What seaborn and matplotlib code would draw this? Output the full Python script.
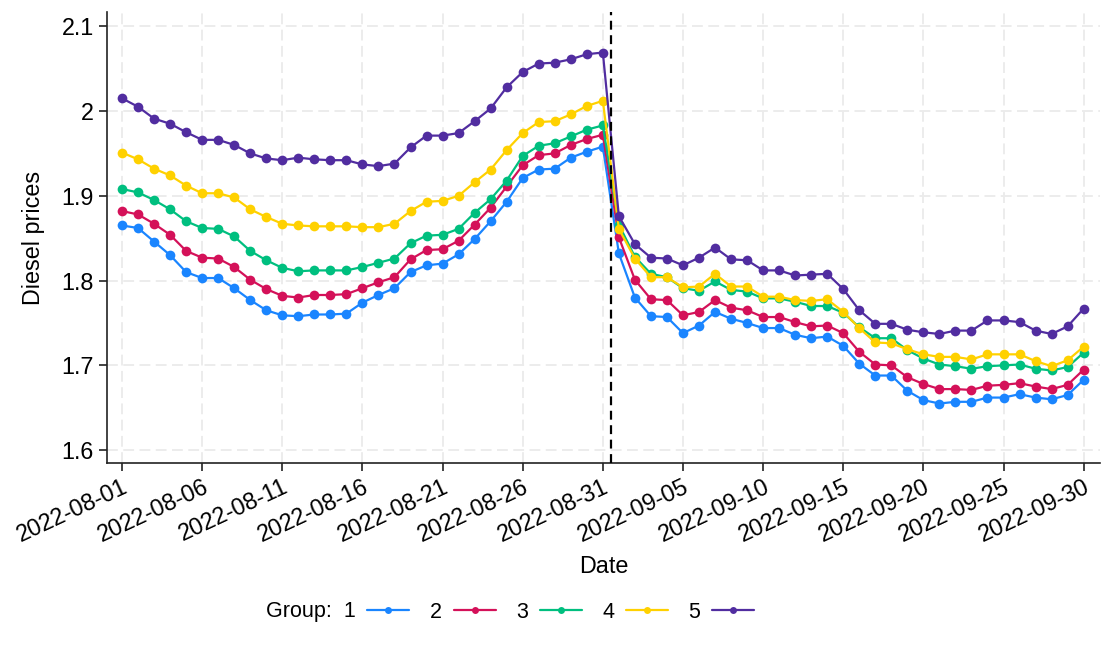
import pandas as pd
import matplotlib
matplotlib.use('Agg')
import matplotlib.pyplot as plt
import matplotlib.dates as mdates
from matplotlib.ticker import FuncFormatter
from matplotlib.lines import Line2D
import seaborn as sns

# daily dates, 2022-08-01 .. 2022-09-30
dates = pd.date_range('2022-08-01', '2022-09-30', freq='D')

group1 = [1.865, 1.862, 1.846, 1.830, 1.810, 1.803, 1.803, 1.791, 1.777, 1.765, 1.759, 1.758, 1.760, 1.760, 1.761, 1.774,
          1.783, 1.791, 1.810, 1.818, 1.820, 1.831, 1.849, 1.870, 1.893, 1.921, 1.931, 1.932, 1.945, 1.952, 1.958,
          1.832, 1.780, 1.758, 1.757, 1.738, 1.747, 1.763, 1.755, 1.750, 1.744, 1.744, 1.736, 1.732, 1.734, 1.723,
          1.702, 1.688, 1.688, 1.670, 1.659, 1.655, 1.657, 1.657, 1.662, 1.662, 1.666, 1.662, 1.660, 1.665, 1.683]
group2 = [1.882, 1.878, 1.867, 1.854, 1.835, 1.827, 1.826, 1.816, 1.801, 1.790, 1.782, 1.780, 1.783, 1.783, 1.784, 1.791,
          1.798, 1.804, 1.825, 1.836, 1.837, 1.847, 1.866, 1.886, 1.911, 1.936, 1.948, 1.950, 1.960, 1.967, 1.972,
          1.851, 1.801, 1.778, 1.777, 1.759, 1.763, 1.777, 1.768, 1.765, 1.757, 1.757, 1.751, 1.746, 1.747, 1.738,
          1.716, 1.701, 1.700, 1.686, 1.678, 1.672, 1.672, 1.671, 1.676, 1.677, 1.679, 1.675, 1.672, 1.677, 1.695]
group3 = [1.908, 1.904, 1.895, 1.884, 1.870, 1.862, 1.861, 1.852, 1.835, 1.824, 1.815, 1.811, 1.812, 1.812, 1.812, 1.816,
          1.821, 1.826, 1.844, 1.853, 1.854, 1.861, 1.880, 1.896, 1.918, 1.947, 1.959, 1.962, 1.970, 1.978, 1.983,
          1.866, 1.828, 1.808, 1.804, 1.791, 1.788, 1.799, 1.789, 1.787, 1.779, 1.779, 1.775, 1.770, 1.770, 1.762,
          1.745, 1.732, 1.732, 1.718, 1.708, 1.701, 1.699, 1.696, 1.699, 1.700, 1.701, 1.696, 1.694, 1.698, 1.715]
group4 = [1.951, 1.943, 1.932, 1.924, 1.912, 1.903, 1.903, 1.898, 1.884, 1.875, 1.867, 1.865, 1.864, 1.864, 1.864, 1.863,
          1.863, 1.867, 1.882, 1.893, 1.894, 1.900, 1.916, 1.931, 1.954, 1.974, 1.987, 1.988, 1.996, 2.006, 2.012,
          1.861, 1.826, 1.804, 1.804, 1.792, 1.793, 1.808, 1.793, 1.793, 1.781, 1.781, 1.777, 1.776, 1.778, 1.763,
          1.744, 1.727, 1.726, 1.719, 1.713, 1.710, 1.710, 1.707, 1.713, 1.713, 1.713, 1.705, 1.699, 1.706, 1.722]
group5 = [2.015, 2.005, 1.991, 1.985, 1.975, 1.966, 1.966, 1.960, 1.950, 1.944, 1.942, 1.945, 1.943, 1.942, 1.942, 1.937,
          1.935, 1.938, 1.957, 1.971, 1.971, 1.974, 1.988, 2.003, 2.028, 2.046, 2.056, 2.057, 2.061, 2.067, 2.069,
          1.876, 1.843, 1.827, 1.826, 1.818, 1.827, 1.839, 1.825, 1.824, 1.812, 1.812, 1.806, 1.807, 1.808, 1.790,
          1.765, 1.749, 1.749, 1.742, 1.739, 1.737, 1.741, 1.741, 1.753, 1.753, 1.751, 1.741, 1.737, 1.746, 1.767]

groups = ['1', '2', '3', '4', '5']
colors = ['#1A85FF', '#D41159', '#00BF7F', '#FFD100', '#512DA0']
y_ticks = [1.6, 1.7, 1.8, 1.9, 2.0, 2.1]
cutoff = pd.Timestamp('2022-08-31 12:00')

frames = []
for g, vals in zip(groups, [group1, group2, group3, group4, group5]):
    frames.append(pd.DataFrame({'Date': dates, 'price': vals, 'Group': g}))
df = pd.concat(frames, ignore_index=True)

sns.set_style('white')
plt.rcParams['font.family'] = ['Liberation Sans', 'DejaVu Sans']
plt.rcParams['text.color'] = 'black'
plt.rcParams['axes.labelcolor'] = 'black'
fs = 16.8

fig = plt.figure(figsize=(11.03, 6.45), dpi=100)
ax = fig.add_axes([0.097, 0.282, 0.9, 0.699])

sns.lineplot(data=df, x='Date', y='price', hue='Group', palette=colors, marker='o',
             markersize=7, markeredgewidth=0, linewidth=1.6, legend=False, ax=ax)

ax.axvline(cutoff, color='black', linestyle=(0, (4, 2.5)), linewidth=1.6, zorder=5)

# axes look
ax.grid(True, color='#EBEBEB', linestyle=(0, (6, 3)), linewidth=1.3)
ax.set_axisbelow(True)
for s in ['top', 'right']:
    ax.spines[s].set_visible(False)
for s in ['left', 'bottom']:
    ax.spines[s].set_color('#222222')
    ax.spines[s].set_linewidth(1.2)

ax.set_xlim(dates[0] - pd.Timedelta(hours=22.5), dates[-1] + pd.Timedelta(days=1))
ax.set_ylim(1.5847, 2.1165)
ax.set_yticks(y_ticks)
ax.yaxis.set_major_formatter(FuncFormatter(lambda v, p: f'{v:g}'))
ax.set_xticks(pd.date_range('2022-08-01', '2022-09-30', freq='5D'))
ax.xaxis.set_major_formatter(mdates.DateFormatter('%Y-%m-%d'))
ax.tick_params(axis='both', direction='out', length=6, width=1.2, color='#222222',
               labelsize=fs, left=True, bottom=True, labelcolor='black')
ax.tick_params(axis='x', pad=2.5)
plt.setp(ax.get_xticklabels(), rotation=25, ha='right', rotation_mode='anchor')

ax.set_xlabel('Date', fontsize=fs, labelpad=6)
ax.set_ylabel('Diesel prices', fontsize=fs, labelpad=12)

handles = [Line2D([], [], color=c, marker='o', markersize=5, markeredgewidth=0, linewidth=1.6) for c in colors]
labels = ['Group:  1', '2', '3', '4', '5']
fig.legend(handles, labels, loc='center', bbox_to_anchor=(510 / 1103, 1 - 612 / 645), ncol=5,
           frameon=False, markerfirst=False, fontsize=15.5, handlelength=1.95, handletextpad=0.55,
           columnspacing=0.95, labelcolor='black')

fig.savefig('out.png', dpi=100)
